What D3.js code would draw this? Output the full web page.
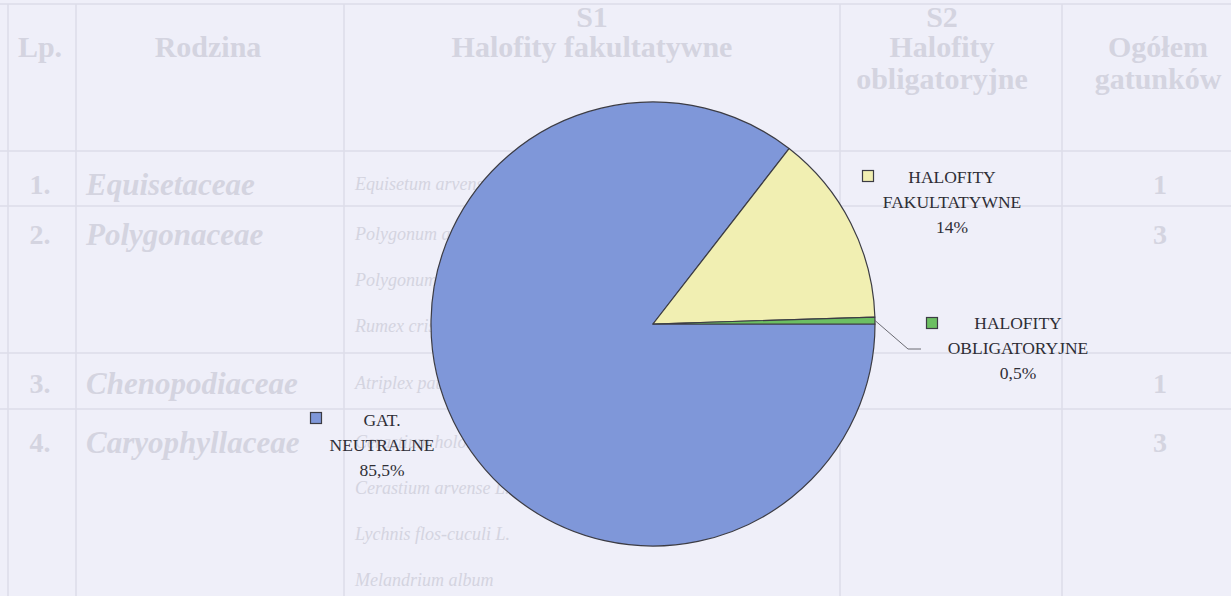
<!DOCTYPE html>
<html>
<head>
<meta charset="utf-8">
<script src="https://cdn.jsdelivr.net/npm/d3@7"></script>
<style>
  html, body { margin: 0; padding: 0; background: #efeff9; }
  svg { display: block; }
</style>
</head>
<body>
<svg id="chart" width="1231" height="596"></svg>
<script>
// Udział grup ekologicznych (%)
const categories = ["GAT. NEUTRALNE", "HALOFITY FAKULTATYWNE", "HALOFITY OBLIGATORYJNE"];
const labelLines = [["GAT.", "NEUTRALNE"], ["HALOFITY", "FAKULTATYWNE"], ["HALOFITY", "OBLIGATORYJNE"]];
const shares = [85.5, 14, 0.5];
const shareLabels = ["85,5%", "14%", "0,5%"];
const colors = ["#7f97d9", "#f1efb2", "#6cbf62"];

// Tabela w tle
const headerCells = [
  { lines: ["Lp."], ys: [46], x: 40 },
  { lines: ["Rodzina"], ys: [46], x: 208 },
  { lines: ["S1", "Halofity fakultatywne"], ys: [16, 46], x: 592 },
  { lines: ["S2", "Halofity", "obligatoryjne"], ys: [16, 46, 78], x: 942 },
  { lines: ["Ogółem", "gatunków"], ys: [46, 78], x: 1158 }
];
const rowNumbers = ["1.", "2.", "3.", "4."];
const families = ["Equisetaceae", "Polygonaceae", "Chenopodiaceae", "Caryophyllaceae"];
const speciesLists = [
  ["Equisetum arvense L."],
  ["Polygonum amphibium L.", "Polygonum lapathifolium L.", "Rumex crispus L."],
  ["Atriplex patula L."],
  ["Cerastium holosteoides Fr.", "Cerastium arvense L.", "Lychnis flos-cuculi L.", "Melandrium album"]
];
const totals = ["1", "3", "1", "3"];

const svg = d3.select("#chart");
const W = 1231, H = 596;

// --- tło: wyblakła tabela ---
const bg = svg.append("g").attr("class", "table-bg");
const faintText = "#d4d4e0";
const faintLine = "#dcdce8";

const rowY = [184, 234, 383, 442];
const subStep = 46;

[4, 151, 206, 353, 409].forEach(y => {
  bg.append("line").attr("x1", 0).attr("x2", W).attr("y1", y).attr("y2", y)
    .attr("stroke", faintLine).attr("stroke-width", 1.5);
});
[8, 76, 344, 840, 1062].forEach(x => {
  bg.append("line").attr("x1", x).attr("x2", x).attr("y1", 4).attr("y2", H)
    .attr("stroke", faintLine).attr("stroke-width", 1.5);
});

headerCells.forEach(c => {
  c.lines.forEach((t, i) => {
    bg.append("text").attr("x", c.x).attr("y", c.ys[i]).attr("dy", "0.35em")
      .attr("text-anchor", "middle")
      .attr("font-family", "Liberation Serif, serif").attr("font-weight", "bold")
      .attr("font-size", 30).attr("fill", faintText).text(t);
  });
});

families.forEach((f, i) => {
  bg.append("text").attr("x", 40).attr("y", rowY[i]).attr("dy", "0.35em")
    .attr("text-anchor", "middle")
    .attr("font-family", "Liberation Serif, serif").attr("font-weight", "bold")
    .attr("font-size", 28).attr("fill", faintText).text(rowNumbers[i]);
  bg.append("text").attr("x", 86).attr("y", rowY[i]).attr("dy", "0.35em")
    .attr("font-family", "Liberation Serif, serif").attr("font-weight", "bold")
    .attr("font-style", "italic")
    .attr("font-size", 31).attr("fill", faintText).text(f);
  speciesLists[i].forEach((s, j) => {
    bg.append("text").attr("x", 355).attr("y", rowY[i] + j * subStep).attr("dy", "0.35em")
      .attr("font-family", "Liberation Serif, serif").attr("font-style", "italic")
      .attr("font-size", 18).attr("fill", faintText).text(s);
  });
  bg.append("text").attr("x", 1160).attr("y", rowY[i]).attr("dy", "0.35em")
    .attr("text-anchor", "middle")
    .attr("font-family", "Liberation Serif, serif").attr("font-weight", "bold")
    .attr("font-size", 28).attr("fill", faintText).text(totals[i]);
});

// --- wykres kołowy ---
const cx = 653, cy = 324, r = 222;
const pie = d3.pie().sort(null).value(d => d)
  .startAngle(Math.PI / 2).endAngle(Math.PI / 2 + 2 * Math.PI);
const arcs = pie(shares);
const arc = d3.arc().innerRadius(0).outerRadius(r);

const g = svg.append("g").attr("transform", `translate(${cx},${cy})`);
g.selectAll("path").data(arcs).join("path")
  .attr("d", arc)
  .attr("fill", (d, i) => colors[i])
  .attr("stroke", "#3c3c44")
  .attr("stroke-width", 1.2)
  .attr("stroke-linejoin", "round");

// --- etykiety z kwadracikami ---
const labelPos = [
  { sq: [316, 418], tx: 382, y0: 420 },
  { sq: [868, 176], tx: 952, y0: 177 },
  { sq: [932, 323], tx: 1018, y0: 323 }
];
const lineH = 25;

// linia odniesienia dla małego wycinka
const small = arcs[2];
const mid = (small.startAngle + small.endAngle) / 2;
const p0 = [cx + r * Math.sin(mid), cy - r * Math.cos(mid)];
svg.append("polyline")
  .attr("points", [p0, [908, 349], [921, 349]].map(p => p.join(",")).join(" "))
  .attr("fill", "none").attr("stroke", "#6a6a72").attr("stroke-width", 1);

labelPos.forEach((p, i) => {
  svg.append("rect")
    .attr("x", p.sq[0] - 5.5).attr("y", p.sq[1] - 5.5)
    .attr("width", 11).attr("height", 11)
    .attr("fill", colors[i]).attr("stroke", "#3c3c44").attr("stroke-width", 1.2);
  const lines = labelLines[i].concat([shareLabels[i]]);
  lines.forEach((t, j) => {
    svg.append("text")
      .attr("x", p.tx).attr("y", p.y0 + j * lineH).attr("dy", "0.35em")
      .attr("text-anchor", "middle")
      .attr("font-family", "Liberation Serif, Times New Roman, serif")
      .attr("font-size", 17.5).attr("fill", "#2e2e36")
      .text(t);
  });
});
</script>
</body>
</html>
